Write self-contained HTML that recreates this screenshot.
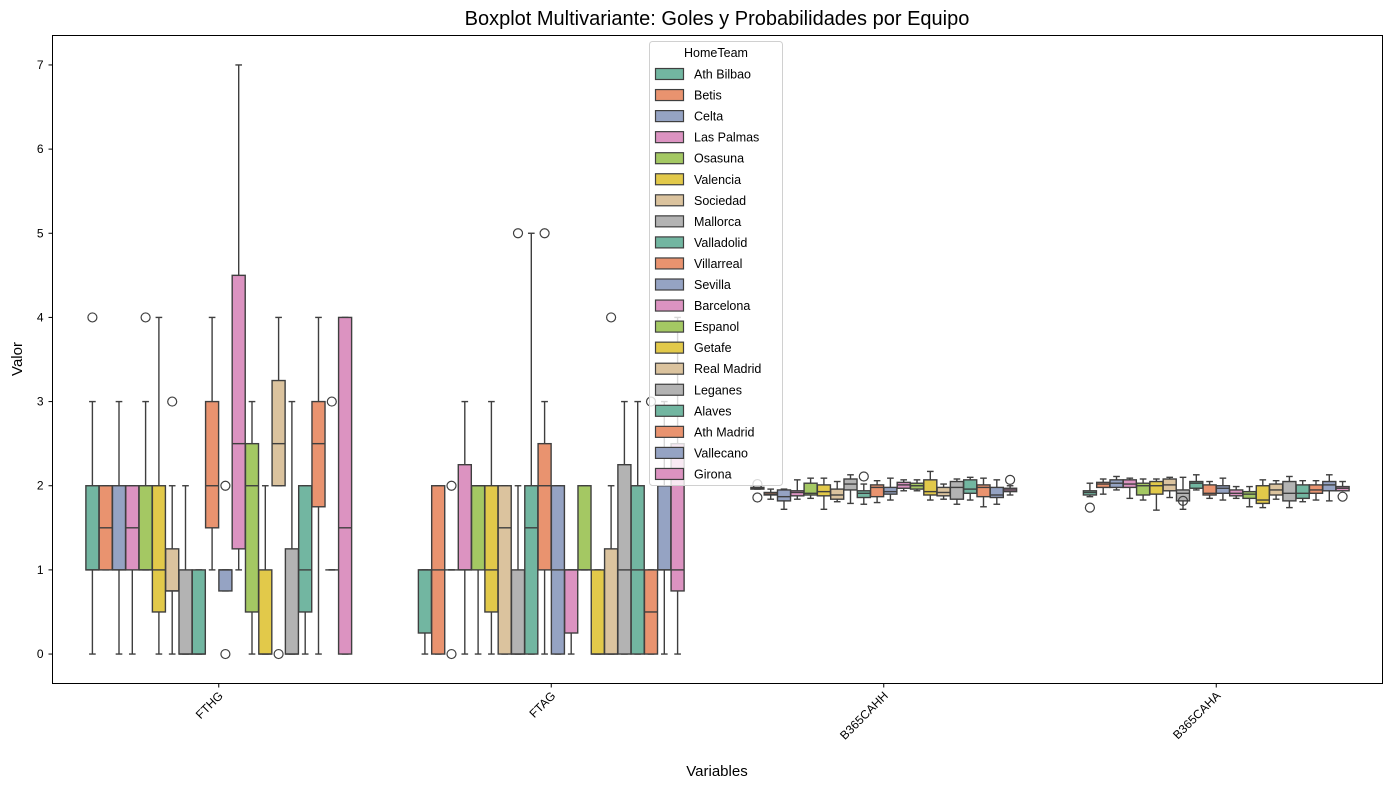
<!DOCTYPE html>
<html><head><meta charset="utf-8"><style>
body{margin:0;background:#fff;}
svg{display:block;font-family:"Liberation Sans","DejaVu Sans",sans-serif;}
</style></head><body>
<svg id="chart" width="1389" height="790" xmlns="http://www.w3.org/2000/svg">
<rect width="1389" height="790" fill="#fff"/>
<text x="717" y="25" text-anchor="middle" font-size="20">Boxplot Multivariante: Goles y Probabilidades por Equipo</text>
<text transform="translate(22,359) rotate(-90)" text-anchor="middle" font-size="15">Valor</text>
<text x="717" y="776" text-anchor="middle" font-size="15">Variables</text>
<g id="plot"></g>
<rect x="52.5" y="35.5" width="1330" height="648" fill="none" stroke="#000" stroke-width="1"/>
<g id="legend"></g>
</svg>
<script>
const variables=["FTHG","FTAG","B365CAHH","B365CAHA"];
const teams=["Ath Bilbao","Betis","Celta","Las Palmas","Osasuna","Valencia","Sociedad","Mallorca","Valladolid","Villarreal","Sevilla","Barcelona","Espanol","Getafe","Real Madrid","Leganes","Alaves","Ath Madrid","Vallecano","Girona"];
const palette=["#72b6a1","#e9936f","#95a3c3","#dc93c1","#a4c863","#e2c94a","#dbc39e","#b3b3b3"];
const yTicks=[0,1,2,3,4,5,6,7];
// each stat: [whiskerLow, q1, median, q3, whiskerHigh]
const statsFTHG=[[0,1,1,2,3],[1,1,1.5,2,2],[0,1,1,2,3],[0,1,1.5,2,2],[1,1,1,2,3],[0,0.5,1,2,4],[0,0.75,0.75,1.25,2],[0,0,0,1,2],[0,0,0,1,1],[1,1.5,2,3,4],[0.75,0.75,1,1,1],[1,1.25,2.5,4.5,7],[0,0.5,2,2.5,3],[0,0,0,1,2],[2,2,2.5,3.25,4],[0,0,0,1.25,3],[0,0.5,1,2,2],[0,1.75,2.5,3,4],[1,1,1,1,1],[0,0,1.5,4,4]];
const outFTHG=[[4],[],[],[],[4],[],[3],[],[],[],[2,0],[],[],[],[0],[],[],[],[3],[]];
const statsFTAG=[[0,0.25,1,1,1],[0,0,1,2,2],[1,1,1,1,1],[0,1,1,2.25,3],[0,1,2,2,2],[0,0.5,1,2,3],[0,0,1.5,2,2],[0,0,0,1,2],[0,0,1.5,2,5],[0,1,2,2.5,3],[0,0,1,2,2],[0,0.25,1,1,1],[1,1,1,2,2],[0,0,0,1,1],[0,0,0,1.25,2],[0,0,1,2.25,3],[0,0,1,2,3],[0,0,0.5,1,1],[0,1,1,2,3],[0,0.75,1,2.5,4]];
const outFTAG=[[],[],[2,0],[],[],[],[],[5],[],[5],[],[],[],[],[4],[],[],[3],[],[]];
const statsHH=[[1.96,1.96,1.97,1.98,1.98],[1.84,1.89,1.90,1.92,1.96],[1.72,1.82,1.87,1.95,1.96],[1.84,1.88,1.92,1.94,2.07],[1.85,1.89,1.91,2.03,2.09],[1.72,1.88,1.93,2.01,2.09],[1.81,1.84,1.89,1.96,2.05],[1.79,1.95,2.02,2.08,2.13],[1.78,1.86,1.91,1.94,2.02],[1.80,1.87,1.98,2.01,2.06],[1.83,1.90,1.93,1.98,2.09],[1.94,1.97,2.01,2.04,2.07],[1.94,1.96,2.00,2.03,2.07],[1.83,1.89,1.93,2.07,2.17],[1.84,1.88,1.92,1.98,2.02],[1.78,1.84,1.98,2.05,2.08],[1.83,1.91,1.96,2.07,2.10],[1.75,1.87,1.98,2.01,2.09],[1.78,1.86,1.89,1.98,2.07],[1.89,1.93,1.95,1.97,2.00]];
const outHH=[[1.86,2.02],[],[],[],[],[],[],[],[2.11],[],[],[],[],[],[],[],[],[],[],[2.07]];
const statsHA=[[1.87,1.89,1.92,1.94,2.03],[1.90,1.98,2.02,2.04,2.08],[1.95,1.98,2.03,2.07,2.11],[1.85,1.98,2.02,2.07,2.09],[1.83,1.89,2.00,2.03,2.08],[1.71,1.90,2.00,2.05,2.08],[1.86,1.94,2.01,2.08,2.10],[1.72,1.82,1.91,1.95,2.10],[1.95,1.97,2.03,2.05,2.13],[1.85,1.89,1.91,2.01,2.05],[1.83,1.91,1.97,2.00,2.09],[1.85,1.88,1.91,1.95,1.99],[1.75,1.85,1.90,1.93,1.99],[1.74,1.79,1.83,2.00,2.07],[1.84,1.89,1.95,2.02,2.06],[1.74,1.82,1.91,2.05,2.11],[1.81,1.85,1.91,2.01,2.06],[1.83,1.91,1.95,2.01,2.06],[1.82,1.94,2.01,2.05,2.13],[1.94,1.94,1.97,1.99,2.05]];
const outHA=[[1.74],[],[],[],[],[],[],[1.82],[],[],[],[],[],[],[],[],[],[],[],[1.87]];

const NS="http://www.w3.org/2000/svg";
const X0=52.5,X1=1382.5,Y0=683.5,Y1=35.5,YMIN=-0.35,YMAX=7.35;
function yS(v){return Y0-(v-YMIN)/(YMAX-YMIN)*(Y0-Y1);}
const catW=(X1-X0)/variables.length;
function xCat(i){return X0+catW*(i+0.5);}
const boxW=catW*0.8/teams.length;
function xBox(ci,ti){return xCat(ci)-catW*0.4+boxW*(ti+0.5);}
function mk(tag,attrs,parent){const e=document.createElementNS(NS,tag);for(const k in attrs)e.setAttribute(k,attrs[k]);parent.appendChild(e);return e;}
const svg=document.getElementById('chart');
const plot=document.getElementById('plot');
const edge="#3f3f3f";
yTicks.forEach(t=>{const y=yS(t);
 const l=mk('line',{x1:X0-4,x2:X0,y1:y,y2:y,stroke:'#000'},svg);
 
 
 const tx=mk('text',{x:X0-9,y:y+4,'text-anchor':'end','font-size':12},svg);
 tx.textContent=t;
 
 
});
variables.forEach((v,i)=>{const x=xCat(i);
 const l=mk('line',{x1:x,x2:x,y1:Y0,y2:Y0+4,stroke:'#000'},svg);
 
 
 const tx=mk('text',{transform:`translate(${x+5},${Y0+13}) rotate(-45)`,'text-anchor':'end','font-size':12},svg);
 tx.textContent=v;
 
 
});
const allStats=[statsFTHG,statsFTAG,statsHH,statsHA];
const allOut=[outFTHG,outFTAG,outHH,outHA];
allStats.forEach((stats,ci)=>{
 stats.forEach((s,ti)=>{
  const g=mk('g',{},plot);
  
  
  const cx=xBox(ci,ti),w=boxW*0.98,cap=boxW*0.5;
  const [wl,q1,md,q3,wh]=s;
  mk('line',{x1:cx,x2:cx,y1:yS(wl),y2:yS(q1),stroke:edge,'stroke-width':1.4},g);
  mk('line',{x1:cx,x2:cx,y1:yS(q3),y2:yS(wh),stroke:edge,'stroke-width':1.4},g);
  mk('line',{x1:cx-cap/2,x2:cx+cap/2,y1:yS(wl),y2:yS(wl),stroke:edge,'stroke-width':1.4},g);
  mk('line',{x1:cx-cap/2,x2:cx+cap/2,y1:yS(wh),y2:yS(wh),stroke:edge,'stroke-width':1.4},g);
  mk('rect',{x:cx-w/2,y:yS(q3),width:w,height:Math.max(0,yS(q1)-yS(q3)),fill:palette[ti%8],stroke:edge,'stroke-width':1.4},g);
  mk('line',{x1:cx-w/2,x2:cx+w/2,y1:yS(md),y2:yS(md),stroke:edge,'stroke-width':1.4},g);
  allOut[ci][ti].forEach(o=>{
   const c=mk('circle',{cx:cx,cy:yS(o),r:4.5,fill:'none',stroke:edge,'stroke-width':1.2},g);
   
   
  });
 });
});
const lg=document.getElementById('legend');


mk('rect',{x:649.5,y:41.5,width:133,height:444,rx:3,fill:'#fff','fill-opacity':0.8,stroke:'#d0d0d0'},lg);
const lt=mk('text',{x:716,y:57,'text-anchor':'middle','font-size':12.5},lg);
lt.textContent='HomeTeam';


teams.forEach((t,i)=>{
 const y=74+i*21.05;
 const e=mk('g',{},lg);
 
 
 mk('rect',{x:655.5,y:y-5.5,width:28,height:11,fill:palette[i%8],stroke:edge,'stroke-width':1.2},e);
 const tx=mk('text',{x:694,y:y+4.5,'font-size':12.5},e);
 tx.textContent=t;
});
</script>
</body></html>
